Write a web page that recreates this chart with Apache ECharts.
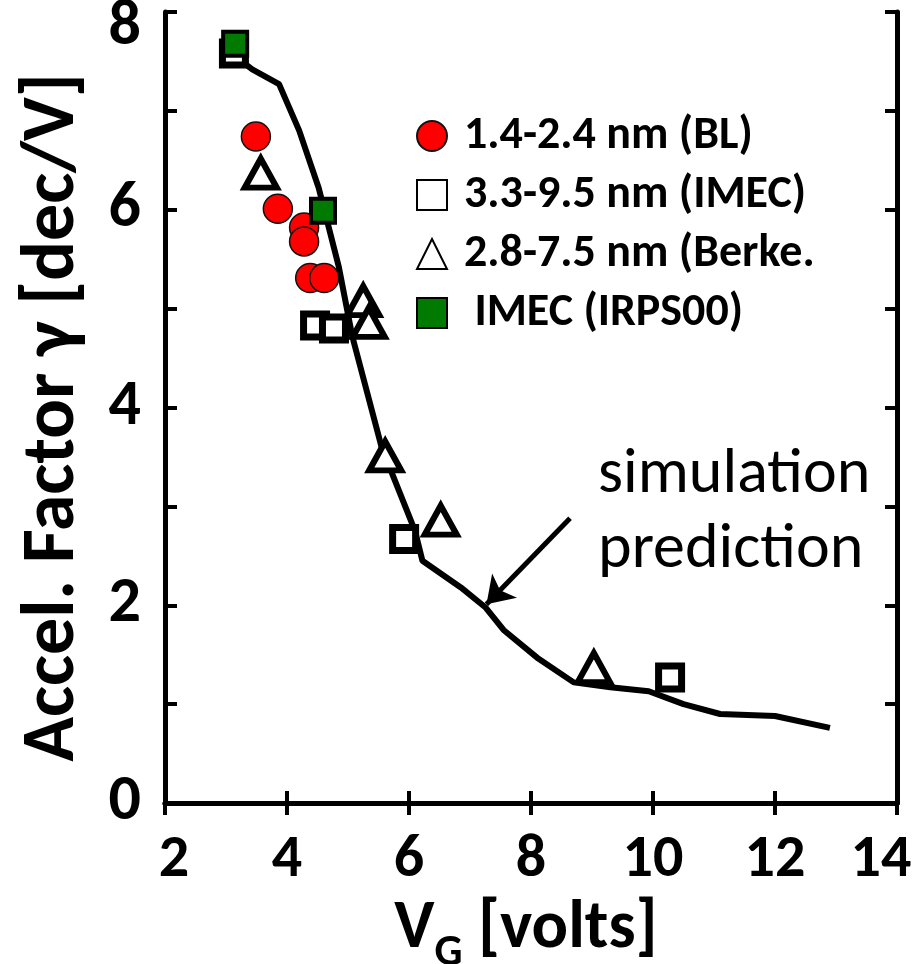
<!DOCTYPE html>
<html><head><meta charset="utf-8">
<script src="https://cdn.jsdelivr.net/npm/echarts@6/dist/echarts.min.js"></script>
<style>html,body{margin:0;padding:0;background:#fff}#c{width:918px;height:964px}</style>
</head><body><div id="c"></div>
<script>
// ---- data ----
const seriesNames = ['1.4-2.4 nm (BL)', '3.3-9.5 nm (IMEC)', '2.8-7.5 nm (Berke.', 'IMEC (IRPS00)'];
const blX = [3.49, 3.85, 4.28, 4.28, 4.38, 4.61];
const blY = [6.74, 6.01, 5.82, 5.68, 5.31, 5.31];
const imecX = [3.13, 4.46, 4.77, 5.92, 10.28];
const imecY = [7.58, 4.83, 4.80, 2.67, 1.27];
const berkX = [3.57, 5.25, 5.34, 5.61, 6.52, 9.03];
const berkY = [6.37, 5.08, 4.86, 3.51, 2.86, 1.37];
const irpsX = [3.15, 4.59];
const irpsY = [7.68, 5.99];
const simX = [3.05, 3.43, 3.87, 4.2, 4.52, 4.85, 5.07, 5.55, 6.1, 6.22, 6.85, 7.25, 7.55, 8.1, 8.7, 9.3, 9.93, 10.5, 11.1, 12.0, 12.9];
const simY = [7.6, 7.42, 7.27, 6.8, 6.22, 5.42, 4.72, 3.6, 2.75, 2.45, 2.18, 1.98, 1.75, 1.47, 1.22, 1.17, 1.13, 1.0, 0.9, 0.88, 0.76];
const arrowFrom = [8.64, 2.88];
const arrowTo = [7.27, 2.01];
const annotation = ['simulation', 'prediction'];
const xTickLabels = ['2', '4', '6', '8', '10', '12', '14'];
const yTickLabels = ['0', '2', '4', '6', '8'];

const zip = (a, b) => a.map((v, i) => [v, b[i]]);
const F = "Carlito, 'Open Sans', sans-serif";
const bold = (size) => ({ fontFamily: F, fontWeight: 'bold', fontSize: size, color: '#000' });

const chart = echarts.init(document.getElementById('c'));
const axisLine = { show: true, lineStyle: { color: '#000', width: 5 } };
const tick = () => ({ show: true, inside: true, length: 12, lineStyle: { color: '#000', width: 4 } });

chart.setOption({
  animation: false,
  backgroundColor: '#fff',
  grid: { left: 165, right: 21, top: 12, bottom: 161, outerBoundsMode: 'none', containLabel: false },
  legend: {
    orient: 'vertical', left: 416, top: 113, padding: 0,
    data: seriesNames,
    itemWidth: 30, itemHeight: 30, itemGap: 13,
    formatter: n => n === 'IMEC (IRPS00)' ? ' ' + n : n,
    textStyle: Object.assign(bold(46), { padding: [0, 0, 0, 12] })
  },
  xAxis: [{
    type: 'value', min: 2, max: 14, interval: 2, position: 'bottom',
    axisLine, axisTick: tick(), splitLine: { show: false },
    axisLabel: Object.assign(bold(60), { margin: 28,
      formatter: v => { const s = String(v); if (xTickLabels.indexOf(s) < 0) return '';
        if (s === '2') return '{l|2}'; if (s === '14') return '{r|14}'; return s; },
      rich: { l: Object.assign(bold(60), { padding: [0, 0, 0, 18] }), r: Object.assign(bold(60), { padding: [0, 32, 0, 0] }) } }),
    name: '{a|V}{b|G}{a| [volts]}', nameLocation: 'middle', nameGap: 86,
    nameTextStyle: { padding: [0, 10, 0, 0], rich: {
      a: Object.assign(bold(68), { lineHeight: 80, verticalAlign: 'top' }),
      b: Object.assign(bold(44), { lineHeight: 80, verticalAlign: 'bottom' })
    } }
  }, {
    type: 'value', min: 2, max: 14, interval: 2, position: 'top',
    axisLine, axisTick: tick(), axisLabel: { show: false }, splitLine: { show: false }
  }],
  yAxis: [{
    type: 'value', min: 0, max: 8, interval: 1, position: 'left',
    axisLine, axisTick: tick(), splitLine: { show: false },
    axisLabel: Object.assign(bold(64), { margin: 24,
      formatter: v => { const s = String(v); if (yTickLabels.indexOf(s) < 0) return ''; return s === '8' ? '{t|8}' : s; },
      rich: { t: Object.assign(bold(64), { padding: [32, 0, 0, 0] }) } }),
    name: 'Accel. Factor \u03b3 [dec/V]', nameLocation: 'middle', nameGap: 74,
    nameTextStyle: Object.assign(bold(74), { padding: [0, 20, 0, 0] })
  }, {
    type: 'value', min: 0, max: 8, interval: 1, position: 'right',
    axisLine, axisTick: tick(), axisLabel: { show: false }, splitLine: { show: false }
  }],
  graphic: [{
    type: 'text', left: 598, top: 438, z: 10,
    style: { text: annotation.join('\n'), fontFamily: F, fontSize: 64, lineHeight: 75, fill: '#000' }
  }],
  series: [{
    name: 'simulation', type: 'line', data: zip(simX, simY), showSymbol: false, symbol: 'none',
    lineStyle: { color: '#000', width: 6 }, z: 1, silent: true,
    markLine: { silent: true, symbol: ['none', 'arrow'], symbolSize: 26, label: { show: false },
      lineStyle: { color: '#000', width: 5, type: 'solid' },
      data: [[{ coord: arrowFrom }, { coord: arrowTo }]] }
  }, {
    name: seriesNames[1], type: 'scatter', data: zip(imecX, imecY), symbol: 'rect', symbolSize: 23,
    itemStyle: { color: '#fff', borderColor: '#000', borderWidth: 7, opacity: 1 }, z: 3
  }, {
    name: seriesNames[2], type: 'scatter', data: zip(berkX, berkY), symbol: 'triangle', symbolSize: [32, 29],
    itemStyle: { color: '#fff', borderColor: '#000', borderWidth: 6, opacity: 1 }, z: 3
  }, {
    name: seriesNames[0], type: 'scatter', data: zip(blX, blY), symbol: 'circle', symbolSize: 29,
    itemStyle: { color: '#ff0000', borderColor: '#111', borderWidth: 1.5, opacity: 1 }, z: 4
  }, {
    name: seriesNames[3], type: 'scatter', data: zip(irpsX, irpsY), symbol: 'rect', symbolSize: 24,
    itemStyle: { color: '#007a00', borderColor: '#000', borderWidth: 4, opacity: 1 }, z: 5
  }]
});
</script></body></html>
